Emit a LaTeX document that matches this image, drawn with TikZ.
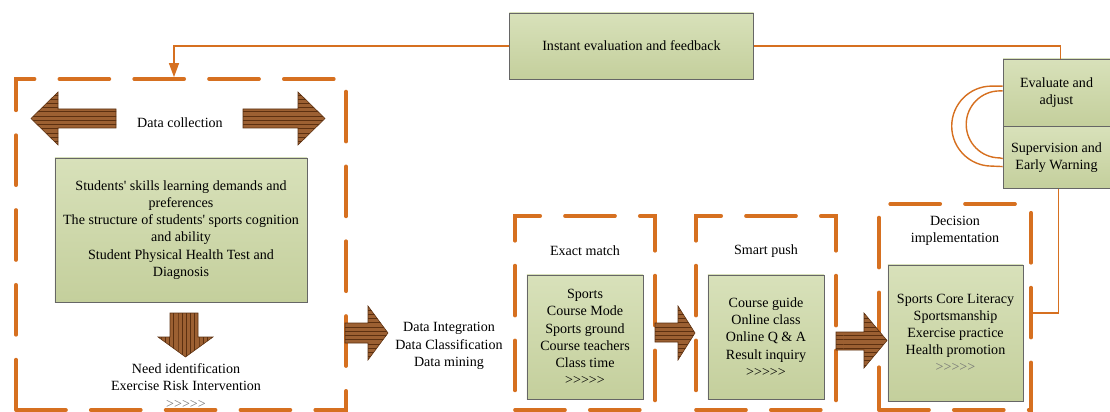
\documentclass[tikz,border=0pt]{standalone}
\usepackage{fontspec}
\setmainfont{Liberation Serif}
\usepackage{xcolor}
\usetikzlibrary{arrows.meta, positioning, patterns}

\definecolor{frameorange}{RGB}{214,112,32}
\definecolor{boxtop}{RGB}{216,225,186}
\definecolor{boxbottom}{RGB}{196,207,156}
\definecolor{arrowbrown}{RGB}{156,96,50}
\definecolor{stripe}{RGB}{92,48,16}

\begin{document}
\begin{tikzpicture}[
    x=0.025cm, y=-0.025cm,
    font=\fontsize{10}{12.2}\selectfont,
    frame/.style={rectangle, draw=frameorange, line width=2.6pt, dash pattern=on 1.25cm off 0.62cm, line cap=round, minimum width=#1},
    box/.style={rectangle, draw=black!60, top color=boxtop, bottom color=boxbottom, text centered, align=center, inner sep=2pt},
    lbl/.style={align=center, inner sep=1pt},
    fb/.style={draw=frameorange, line width=1pt},
    hfat/.style={draw=stripe, line width=0.4pt, preaction={fill=arrowbrown}, pattern=horizontal lines, pattern color=stripe},
    vfat/.style={hfat, pattern=vertical lines}
]
\useasboundingbox (0,0) rectangle (1110,412);

% Dashed frames
\node[frame=8.25cm, minimum height=8.275cm] (collect) at (181,244.5) {};
\node[frame=3.5cm, minimum height=4.85cm] (match) at (585,313) {};
\node[frame=3.5cm, minimum height=4.85cm] (push) at (766,313) {};
\node[frame=3.8cm, minimum height=5.15cm] (decide) at (955,307) {};

% Data collection
\node[lbl] (collectlbl) at (180,123) {Data collection};
\node[box, minimum width=6.3cm, minimum height=3.6cm] (needs) at (181,230) {Students\textquotesingle{} skills learning demands and\\ preferences\\ The structure of students\textquotesingle{} sports cognition\\ and ability\\ Student Physical Health Test and\\ Diagnosis};
\node[lbl] (identify) at (186,386) {Need identification\\ Exercise Risk Intervention\\ {\color{black!55}>{}>{}>{}>{}>}};

% Data processing
\node[lbl] (process) at (449,346) {Data Integration\\ Data Classification\\ Data mining};

% Exact match
\node[lbl] (matchlbl) at (585,251) {Exact match};
\node[box, minimum width=2.9cm, minimum height=3.1cm] (course) at (585,337) {Sports\\ Course Mode\\ Sports ground\\ Course teachers\\ Class time\\ >{}>{}>{}>{}>};

% Smart push
\node[lbl] (pushlbl) at (766,251) {Smart push};
\node[box, minimum width=2.9cm, minimum height=3.1cm] (guide) at (766,337) {Course guide\\ Online class\\ Online Q \& A\\ Result inquiry\\ >{}>{}>{}>{}>};

% Decision implementation
\node[lbl] (decidelbl) at (955,230.5) {Decision\\ implementation};
\node[box, minimum width=3.375cm, minimum height=3.4cm] (literacy) at (955.5,333) {Sports Core Literacy\\ Sportsmanship\\ Exercise practice\\ Health promotion\\ {\color{black!55}>{}>{}>{}>{}>}};

% Feedback boxes
\node[box, minimum width=6.1cm, minimum height=1.65cm] (instant) at (631.5,46) {Instant evaluation and feedback};
\node[box, minimum width=2.675cm, minimum height=1.675cm] (ev) at (1056.5,92.5) {Evaluate and\\ adjust};
\node[box, minimum width=2.675cm, minimum height=1.55cm, below=0pt of ev] (sup) {Supervision and\\ Early Warning};

% Block arrows
\draw[hfat] (116,109) -- (58,109) -- (58,92) -- (31,118.5) -- (58,145) -- (58,128) -- (116,128) -- cycle;
\draw[hfat] (243,109) -- (298,109) -- (298,92) -- (325,118.5) -- (298,145) -- (298,128) -- (243,128) -- cycle;
\draw[vfat] (170,313) -- (198,313) -- (198,337) -- (213,337) -- (185.5,357) -- (158,337) -- (170,337) -- cycle;
\draw[hfat] (345,323) -- (368,323) -- (368,306) -- (388,333) -- (368,360) -- (368,343) -- (345,343) -- cycle;
\draw[hfat] (655,323) -- (678,323) -- (678,306) -- (695,333) -- (678,360) -- (678,342) -- (655,342) -- cycle;
\draw[hfat] (836,332) -- (864,332) -- (864,313) -- (887,340.5) -- (864,368) -- (864,350) -- (836,350) -- cycle;

% Feedback lines
\draw[fb, -{Triangle[length=0.35cm, width=0.25cm]}] (instant.west) -| ([xshift=-0.175cm]collect.north);
\draw[fb] (instant.east) -| ([xshift=0.1cm]ev.north);
\draw[fb] ([xshift=0.05cm]sup.south) |- ([yshift=-0.15cm]decide.east);

% Loops between evaluate and supervision
\draw[fb] ([yshift=0.16cm]ev.west) -- ++(-11,0) arc[start angle=270, end angle=90, radius=40] -- ([yshift=-0.225cm]sup.west);
\draw[fb] ([yshift=0.04cm]ev.west) -- ++(-3,0) arc[start angle=270, end angle=90, radius=33.5] -- ([yshift=-0.025cm]sup.west);

\end{tikzpicture}
\end{document}
